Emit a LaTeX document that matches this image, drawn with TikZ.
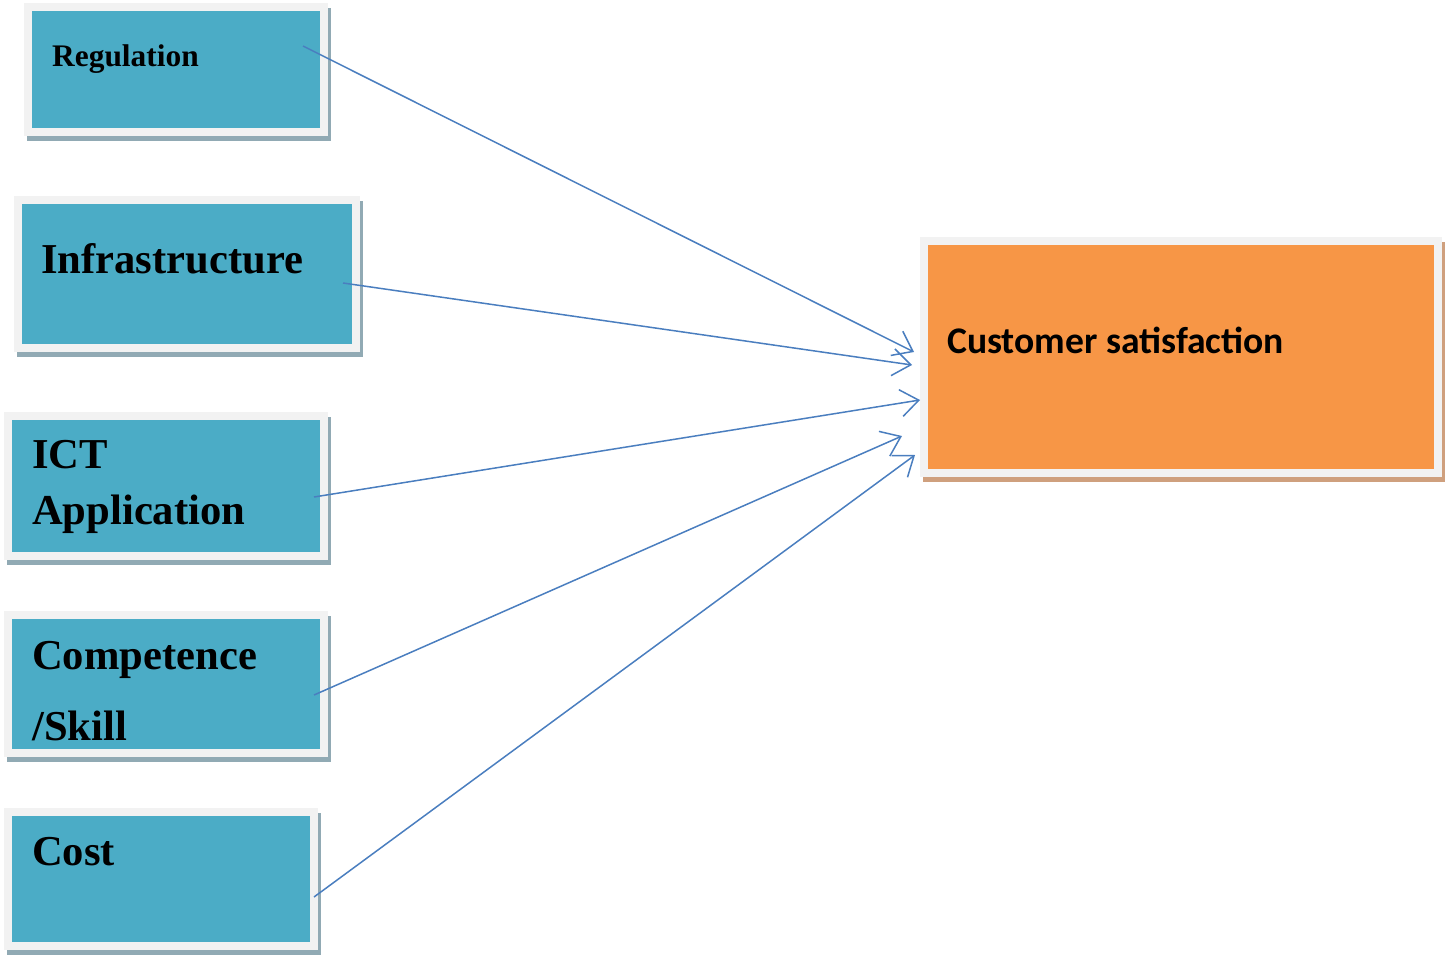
\documentclass[tikz,border=0pt]{standalone}
\usepackage{fontspec}
\usepackage{tikz}
\usetikzlibrary{arrows.meta, backgrounds}
\newfontfamily\factorfont{Liberation Serif}
\newfontfamily\outcomefont{Carlito}
\definecolor{factorfill}{HTML}{4BACC6}
\definecolor{factorshade}{HTML}{91AAB4}
\definecolor{outcomefill}{HTML}{F79646}
\definecolor{outcomeshade}{HTML}{CFA07E}
\definecolor{framegray}{HTML}{F2F2F2}
\definecolor{linkblue}{HTML}{4A7EBF}

\begin{document}
\begin{tikzpicture}[x=1pt, y=-1pt,
        factor/.style={rectangle, fill=factorfill, draw=framegray, line width=8pt, inner sep=0pt, outer sep=4pt},
        outcome/.style={rectangle, fill=outcomefill, draw=framegray, line width=8pt, inner sep=0pt, outer sep=4pt},
        boxtext/.style={anchor=base west, inner sep=0pt, font=\factorfont\bfseries\fontsize{42.6}{50}\selectfont},
        arrowline/.style={draw=linkblue, line width=1.5pt, -{Straight Barb[length=18pt,width=27pt]}}]
        \useasboundingbox (0,0) rectangle (1445,955);

        \node[factor, minimum width=296pt, minimum height=125pt] (reg) at (176,69.5) {};
        \node[factor, minimum width=338pt, minimum height=148pt] (infra) at (187,274) {};
        \node[factor, minimum width=316pt, minimum height=140pt] (ict) at (166,486) {};
        \node[factor, minimum width=316pt, minimum height=138pt] (comp) at (166,684) {};
        \node[factor, minimum width=306pt, minimum height=134pt] (cost) at (161,879) {};
        \node[outcome, minimum width=514pt, minimum height=232pt] (cs) at (1181,357) {};

        \begin{scope}[on background layer]
        \foreach \n in {reg,infra,ict,comp,cost}
                \fill[factorshade] ([shift={(3,5)}]\n.north west) rectangle ([shift={(3,5)}]\n.south east);
        \fill[outcomeshade] ([shift={(3,5)}]cs.north west) rectangle ([shift={(3,5)}]cs.south east);
        \end{scope}

        \node[boxtext, font=\factorfont\bfseries\fontsize{31.4}{36}\selectfont] (reg-text) at (52,67) {Regulation};
        \node[boxtext] (infra-text) at (41,273) {Infrastructure};
        \node[boxtext] (ict-text) at (32,468) {ICT};
        \node[boxtext] (ict-text2) at (32,524) {Application};
        \node[boxtext] (comp-text) at (32,669) {Competence};
        \node[boxtext] (comp-text2) at (32,740) {/Skill};
        \node[boxtext] (cost-text) at (32,865) {Cost};
        \node[boxtext, font=\outcomefont\bfseries\fontsize{37.6}{44}\selectfont] (cs-text) at (947,353) {Customer satisfaction};

        \coordinate (reg-out) at (303,46);
        \coordinate (infra-out) at (343,283);
        \coordinate (ict-out) at (314,497);
        \coordinate (comp-out) at (314,695);
        \coordinate (cost-out) at (314,897);

        \draw[arrowline] (reg-out) -- ([shift={(-6,-5)}]cs.west);
        \draw[arrowline] (infra-out) -- ([shift={(-8,8)}]cs.west);
        \draw[arrowline] (ict-out) -- ([shift={(0,43)}]cs.west);
        \draw[arrowline] (comp-out) -- ([shift={(-18,79)}]cs.west);
        \draw[arrowline] (cost-out) -- ([shift={(-5,98)}]cs.west);
    \end{tikzpicture}
\end{document}
